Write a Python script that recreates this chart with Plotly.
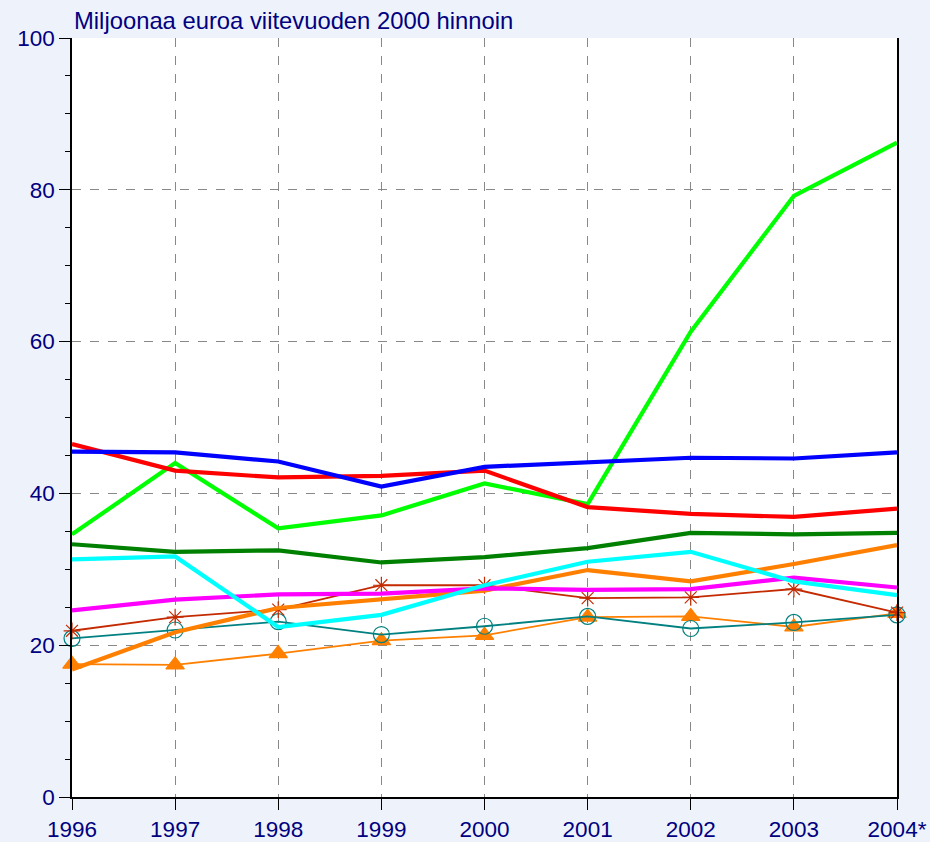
import plotly.graph_objects as go

years = ["1996", "1997", "1998", "1999", "2000", "2001", "2002", "2003", "2004*"]

red = [46.5, 43.0, 42.1, 42.3, 43.0, 38.2, 37.3, 36.9, 38.0]
blue = [45.5, 45.4, 44.2, 40.9, 43.5, 44.1, 44.7, 44.6, 45.4]
lime = [34.6, 44.0, 35.4, 37.1, 41.3, 38.6, 61.3, 79.2, 86.2]
darkgreen = [33.3, 32.3, 32.5, 30.9, 31.6, 32.8, 34.8, 34.6, 34.8]
cyan = [31.3, 31.7, 22.4, 24.0, 27.9, 31.0, 32.3, 28.4, 26.6]
magenta = [24.6, 26.0, 26.7, 26.8, 27.5, 27.3, 27.4, 28.9, 27.6]
orange_thick = [16.8, 21.7, 24.9, 26.1, 27.2, 29.9, 28.4, 30.7, 33.2]
darkred_star = [21.9, 23.7, 24.7, 27.9, 27.9, 26.2, 26.3, 27.4, 24.3]
teal_circle = [20.9, 22.0, 23.1, 21.4, 22.5, 23.8, 22.2, 23.0, 24.0]
orange_tri = [17.5, 17.4, 18.9, 20.6, 21.3, 23.7, 23.8, 22.4, 24.2]

yticks = [0, 20, 40, 60, 80, 100]

fig = go.Figure()

def thin(y, color, symbol, size):
    fig.add_trace(go.Scatter(x=years, y=y, mode="lines+markers",
                             line=dict(color=color, width=1.8),
                             marker=dict(symbol=symbol, size=size, color=color,
                                         line=dict(color=color, width=1.2)),
                             showlegend=False, cliponaxis=False))

def thick(y, color):
    fig.add_trace(go.Scatter(x=years, y=y, mode="lines",
                             line=dict(color=color, width=4.2),
                             showlegend=False, cliponaxis=False))

thin(orange_tri, "#FF8000", "triangle-up", 16)
thin(teal_circle, "#008080", "circle-open", 16)
thin(darkred_star, "#C42A00", "asterisk-open", 14)
thick(orange_thick, "#FF8000")
thick(magenta, "#FF00FF")
thick(cyan, "#00FFFF")
thick(darkgreen, "#008000")
thick(lime, "#00FF00")
thick(red, "#FF0000")
thick(blue, "#0000FF")

font_color = "#000080"
fig.update_layout(
    width=930, height=842,
    paper_bgcolor="#EEF3FB", plot_bgcolor="#FFFFFF",
    margin=dict(l=72, r=33, t=38, b=45),
    font=dict(family="Liberation Sans, Arial, sans-serif", color=font_color, size=22),
    showlegend=False,
    annotations=[dict(text="Miljoonaa euroa viitevuoden 2000 hinnoin",
                      xref="paper", yref="paper", x=0, y=1, xanchor="left", yanchor="bottom",
                      xshift=0, yshift=2, showarrow=False, font=dict(size=23.8, color=font_color))],
)
fig.update_xaxes(
    type="category", range=[0, 8], automargin=False,
    showline=True, linecolor="black", linewidth=1.5,
    ticks="outside", ticklen=11, tickcolor="black",
    showgrid=True, gridcolor="#888888", griddash="dash", gridwidth=1,
    tickfont=dict(size=22.5, color=font_color),
)
fig.update_yaxes(
    range=[0, 100], tickvals=yticks, automargin=False,
    showline=True, linecolor="black", linewidth=1.5, mirror=True,
    ticks="outside", ticklen=11, tickcolor="black",
    minor=dict(dtick=5, ticks="outside", ticklen=5, tickcolor="black", showgrid=False),
    showgrid=True, gridcolor="#888888", griddash="dash", gridwidth=1,
    zeroline=False,
    tickfont=dict(size=22.5, color=font_color),
)
fig.write_html("out.html", config={"displayModeBar": False},
               post_script="document.body.style.margin='0';")
